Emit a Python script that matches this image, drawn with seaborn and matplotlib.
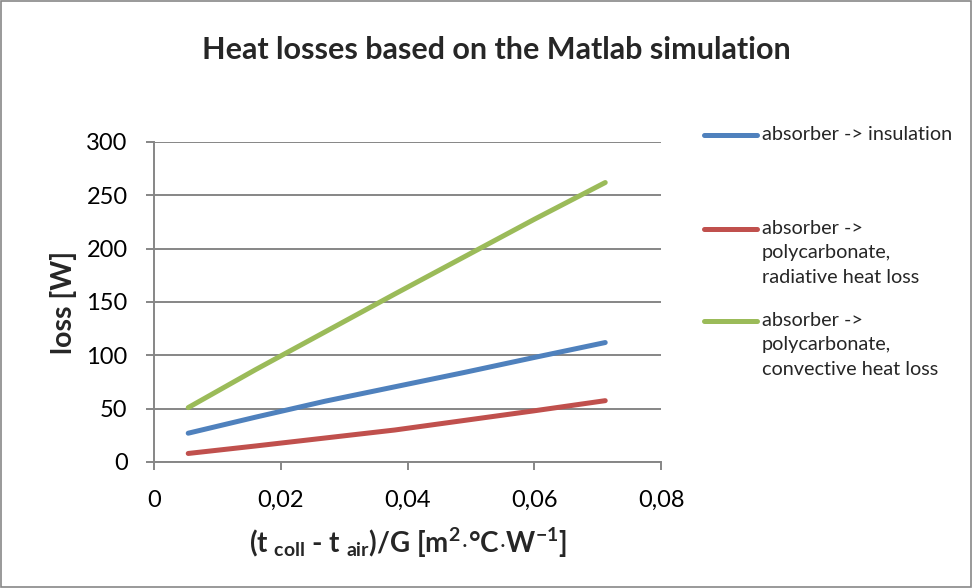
import numpy as np
import pandas as pd
import seaborn as sns
import matplotlib
matplotlib.use("Agg")
import matplotlib.pyplot as plt
from matplotlib.lines import Line2D
from matplotlib.patches import Rectangle

# ---- data ----
x_vals = [0.0054, 0.016, 0.027, 0.038, 0.049, 0.060, 0.0712]
insulation = [27, 42, 57, 70.5, 84, 98, 112]
radiative = [8, 15, 22.5, 30, 39, 48, 57.5]
convective = [51, 86.5, 122, 157.5, 192.5, 227.5, 262]
series_names = [
    "absorber -> insulation",
    "absorber ->\npolycarbonate,\nradiative heat loss",
    "absorber ->\npolycarbonate,\nconvective heat loss",
]
colors = ["#4F81BD", "#C0504D", "#9BBB59"]
x_ticks = [0, 0.02, 0.04, 0.06, 0.08]
x_tick_labels = ["0", "0,02", "0,04", "0,06", "0,08"]
y_ticks = [0, 50, 100, 150, 200, 250, 300]

df = pd.DataFrame({
    "x": x_vals * 3,
    "loss": insulation + radiative + convective,
    "series": [series_names[0]] * len(x_vals) + [series_names[1]] * len(x_vals) + [series_names[2]] * len(x_vals),
})

sns.set_theme(style="white")
plt.rcParams["font.family"] = ["Lato", "DejaVu Sans"]
plt.rcParams["mathtext.fontset"] = "custom"
plt.rcParams["mathtext.rm"] = "Lato:bold"
plt.rcParams["mathtext.default"] = "rm"

fig = plt.figure(figsize=(9.72, 5.88), dpi=100)
ax = fig.add_axes([154 / 972, 1 - 462 / 588, (661 - 154) / 972, (462 - 142) / 588])

sns.lineplot(data=df, x="x", y="loss", hue="series", hue_order=series_names,
             palette=colors, linewidth=3.6, ax=ax, legend=False, sort=True)
for ln in ax.lines:
    ln.set_solid_capstyle("round")

grid_c = "#868686"
ax.set_xlim(0, 0.08)
ax.set_ylim(0, 300)
ax.set_xticks(x_ticks)
ax.set_xticklabels(x_tick_labels)
ax.set_yticks(y_ticks)
ax.yaxis.grid(True, color=grid_c, linewidth=1.4)
ax.xaxis.grid(False)
ax.set_axisbelow(True)
for s in ["top", "right"]:
    ax.spines[s].set_visible(False)
for s in ["left", "bottom"]:
    ax.spines[s].set_color(grid_c)
    ax.spines[s].set_linewidth(1.4)
ax.tick_params(axis="both", which="major", direction="out", length=6, width=1.4,
               color=grid_c, labelsize=17, labelcolor="black")
ax.tick_params(axis="y", pad=13)
ax.tick_params(axis="x", pad=14)
ax.tick_params(left=True, bottom=True)

ax.set_ylabel("loss [W]", fontsize=20.5, fontweight="bold")
ax.yaxis.set_label_coords(-0.152, 0.5)
ax.set_xlabel(r"(t $_{coll}$ - t $_{air}$)/G [m$^{2}$$\cdot$°C$\cdot$W$^{-1}$]",
              fontsize=20, fontweight="bold", labelpad=11)

fig.text(496 / 972, 1 - 50 / 588, "Heat losses based on the Matlab simulation",
         ha="center", va="center", fontsize=22, fontweight="bold")

# legend (Excel style: handle aligned to first text line)
leg_y = [135, 229, 321]
for name, c, yy in zip(series_names, colors, leg_y):
    fy = 1 - yy / 588
    fig.add_artist(Line2D([704 / 972, 757 / 972], [fy, fy], color=c, linewidth=3.6,
                          solid_capstyle="round", transform=fig.transFigure))
    fig.text(762 / 972, fy + 0.015, name, ha="left", va="top", fontsize=14.3,
             linespacing=1.52)

fig.add_artist(Rectangle((0.001, 0.001), 0.998, 0.997, transform=fig.transFigure,
                         fill=False, edgecolor="#878787", linewidth=1.2))

fig.savefig("out.png", dpi=100)
